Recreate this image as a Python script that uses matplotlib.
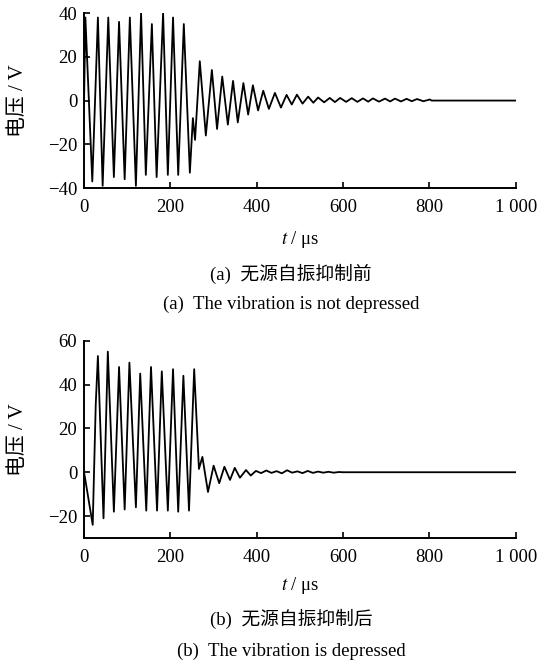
"""
Voltage waveforms before/after passive self-oscillation suppression.
"""

import numpy as np
import matplotlib
matplotlib.use("Agg")
import matplotlib.pyplot as plt

plt.rcParams['font.family'] = ['Liberation Serif', 'Noto Sans CJK SC']
plt.rcParams['mathtext.fontset'] = 'stix'
plt.rcParams['axes.unicode_minus'] = True

# (a) before suppression: extrema, t in us, V in volts
t_a = [0, 3, 19, 32, 43, 56, 69, 81, 94, 106, 120, 132, 143, 157, 168, 183,
       194, 206, 218, 231, 245, 252, 257, 268, 282, 296, 308, 320, 333, 345,
       356, 369, 380, 391, 403, 415, 428, 442, 456, 469, 481, 493, 506, 519,
       531, 542, 556, 569, 581, 593, 607, 620, 633, 646, 658, 669, 683, 697,
       709, 720, 734, 747, 759, 771, 786, 801, 805, 1000]
v_a = [0, 38, -37, 38, -39, 38, -35, 36, -36, 38, -39, 40, -34, 35, -35, 40,
       -34, 38, -34, 35, -33, -8, -18, 18, -16, 14, -13, 11, -11, 9,
       -10, 8, -6.4, 7, -4.5, 4.5, -3.8, 3.5, -3.2, 2.6, -1.8, 2.7, -1.4, 1.8,
       -1.0, 1.4, -0.8, 1.2, -0.7, 1.2, -0.6, 1.1, -0.6, 1.0, -0.5, 1.0, -0.5, 0.9,
       -0.4, 0.9, -0.4, 0.8, -0.3, 0.7, -0.3, 0.5, 0, 0]

# (b) after suppression
t_b = [0, 20, 27, 32, 45, 55, 69, 81, 94, 105, 120, 130, 144, 155, 169, 180,
       194, 206, 218, 230, 243, 255, 266, 274, 287, 300, 313, 325, 338, 349,
       361, 375, 386, 398, 410, 422, 434, 446, 458, 470, 482, 494, 506, 518,
       530, 542, 554, 566, 578, 590, 600, 1000]
v_b = [0, -24, 31, 53, -21, 55, -18, 48, -17, 50, -16, 45, -17.5, 48, -17.5, 46,
       -17.5, 47, -18, 44, -17.5, 47, 1.5, 7, -9, 3, -5, 2.5, -3.5, 2,
       -2.5, 1, -1.5, 0.6, -0.4, 0.8, -0.3, 0.5, -0.5, 0.9, -0.2, 0.4, -0.4, 0.6,
       -0.3, 0.3, -0.2, 0.2, -0.2, 0.1, 0, 0]

x_ticks = [0, 200, 400, 600, 800, 1000]
x_labels = ['0', '200', '400', '600', '800', '1 000']

FS = 13.5


def style_axes(ax, ylim, yticks):
    ax.set_xlim(0, 1000)
    ax.set_ylim(*ylim)
    ax.set_xticks(x_ticks)
    ax.set_xticklabels(x_labels)
    ax.set_yticks(yticks)
    ax.set_yticklabels([f'{y}'.replace('-', '\u2212') for y in yticks])
    for s in ('top', 'right'):
        ax.spines[s].set_visible(False)
    for s in ('left', 'bottom'):
        ax.spines[s].set_linewidth(1.4)
    ax.tick_params(direction='in', length=4, width=1.2, labelsize=FS)
    ax.tick_params(axis='x', pad=8)
    ax.tick_params(axis='y', pad=5)
    ax.set_ylabel('电压 / V', fontsize=FS + 1.5, va='center')
    ax.yaxis.set_label_coords(-0.152, 0.5)


fig = plt.figure(figsize=(5.39, 6.70), dpi=100)

ax1 = fig.add_axes([0.156, 0.7194, 0.801, 0.261])
ax1.plot(t_a, v_a, color='black', linewidth=1.3)
style_axes(ax1, (-40, 40), [-40, -20, 0, 20, 40])

ax2 = fig.add_axes([0.156, 0.197, 0.801, 0.2945])
ax2.plot(t_b, v_b, color='black', linewidth=1.3)
style_axes(ax2, (-30, 60), [-20, 0, 20, 40, 60])

cx = 300 / 539
fig.text(cx, 1 - 239 / 670, r'$t$ / μs', ha='center', va='center', fontsize=FS)
fig.text(0.54, 1 - 274 / 670, '(a)  无源自振抑制前', ha='center', va='center', fontsize=FS)
fig.text(0.54, 1 - 304 / 670, '(a)  The vibration is not depressed', ha='center',
         va='center', fontsize=FS)

fig.text(cx, 1 - 585 / 670, r'$t$ / μs', ha='center', va='center', fontsize=FS)
fig.text(0.54, 1 - 619 / 670, '(b)  无源自振抑制后', ha='center', va='center', fontsize=FS)
fig.text(0.54, 1 - 651 / 670, '(b)  The vibration is depressed', ha='center',
         va='center', fontsize=FS)

fig.savefig('out.png', dpi=100)
